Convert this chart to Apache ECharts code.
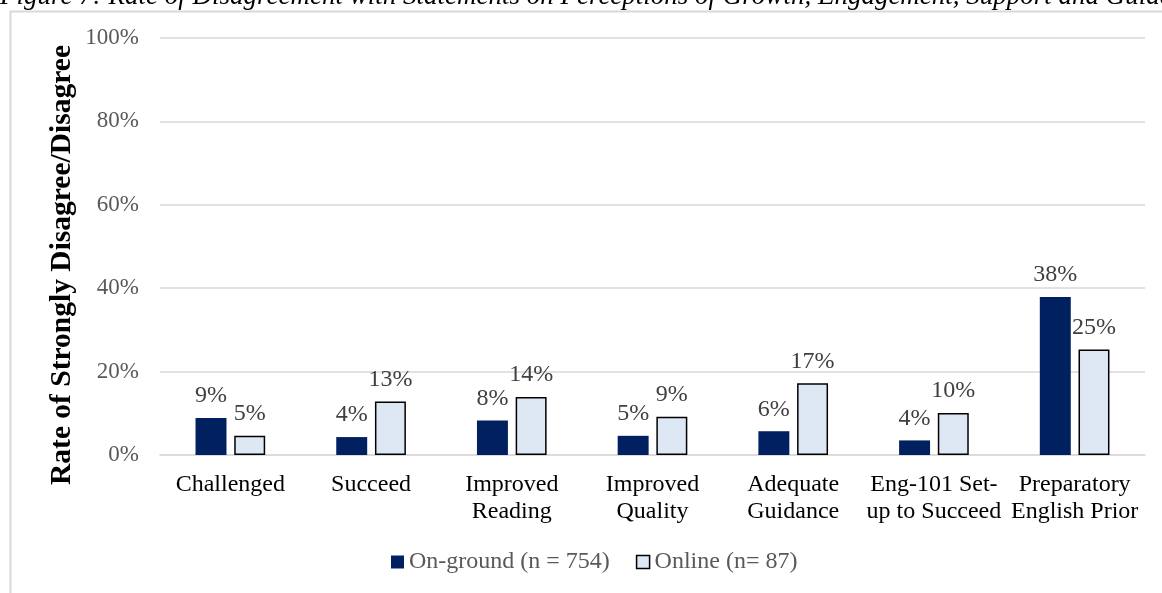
<!DOCTYPE html>
<html>
<head>
<meta charset="utf-8">
<script src="https://cdn.jsdelivr.net/npm/echarts@6/dist/echarts.min.js"></script>
<style>
html,body{margin:0;padding:0;background:#fff;}
#chart{width:1162px;height:593px;}
</style>
</head>
<body>
<div id="chart"></div>
<script>
const categories = ['Challenged', 'Succeed', 'Improved\nReading', 'Improved\nQuality', 'Adequate\nGuidance', 'Eng-101 Set-\nup to Succeed', 'Preparatory\nEnglish Prior'];
const onGround = [8.9, 4.3, 8.3, 4.6, 5.7, 3.5, 37.9];
const online = [4.6, 12.8, 13.9, 9.2, 17.2, 10.1, 25.3];
const seriesNames = ['On-ground (n = 754)', 'Online (n= 87)'];
const titleText = 'Figure 7: Rate of Disagreement with Statements on Perceptions of Growth, Engagement, Support and Guidance';
const yAxisTitle = 'Rate of Strongly Disagree/Disagree';

const serif = '"Liberation Serif", "Times New Roman", serif';
const chart = echarts.init(document.getElementById('chart'));
chart.setOption({
  animation: false,
  textStyle: { fontFamily: serif },
  graphic: [
    { type: 'rect', left: 8, top: 9, shape: { width: 1170, height: 600 },
      style: { fill: 'none', stroke: '#d9d9d9', lineWidth: 2 }, z: -1 },
    { type: 'text', left: 0, top: -17,
      style: { text: titleText, font: 'italic 27px ' + serif, fill: '#000' } },
    { type: 'text', x: 62, y: 265, rotation: Math.PI / 2,
      style: { text: yAxisTitle, font: 'bold 29.5px ' + serif, fill: '#000', align: 'center', verticalAlign: 'middle' } }
  ],
  legend: {
    bottom: 14, left: 386,
    itemWidth: 13, itemHeight: 13, itemGap: 26,
    textStyle: { fontFamily: serif, fontSize: 24, color: '#595959' },
    data: [
      { name: seriesNames[0], icon: 'rect' },
      { name: seriesNames[1], icon: 'rect', itemStyle: { color: '#dde8f4', borderColor: '#000', borderWidth: 1.5 } }
    ]
  },
  grid: { left: 160, right: 17, top: 38, bottom: 138, containLabel: false },
  xAxis: {
    type: 'category', data: categories,
    axisLine: { lineStyle: { color: '#d9d9d9', width: 1.5 } },
    axisTick: { show: false },
    axisLabel: { fontFamily: serif, fontSize: 24, color: '#000', lineHeight: 27, margin: 16, interval: 0 }
  },
  yAxis: {
    type: 'value', min: 0, max: 100, interval: 20,
    axisLabel: { formatter: '{value}%', fontFamily: serif, fontSize: 23, color: '#595959', margin: 21 },
    splitLine: { lineStyle: { color: '#d9d9d9', width: 1.5 } },
    axisLine: { show: false }, axisTick: { show: false }
  },
  series: [
    { name: seriesNames[0], type: 'bar', data: onGround, barWidth: '22%', barGap: '25%',
      itemStyle: { color: '#002060' },
      label: { show: true, position: 'top', distance: 10, formatter: p => Math.round(p.value) + '%',
        fontFamily: serif, fontSize: 24, color: '#404040' } },
    { name: seriesNames[1], type: 'bar', data: online, barWidth: '22%',
      itemStyle: { color: '#dde8f4', borderColor: '#000', borderWidth: 1.5 },
      label: { show: true, position: 'top', distance: 10, formatter: p => Math.round(p.value) + '%',
        fontFamily: serif, fontSize: 24, color: '#404040' } }
  ]
});
</script>
</body>
</html>
